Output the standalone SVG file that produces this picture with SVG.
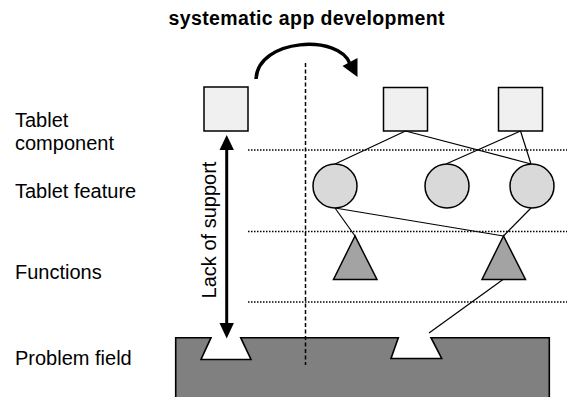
<svg xmlns="http://www.w3.org/2000/svg" width="567" height="397" viewBox="0 0 567 397">
<style>
.lbl{font-family:"Liberation Sans",Arial,sans-serif;font-size:20px;fill:#000}
.title{font-family:"Liberation Sans",Arial,sans-serif;font-size:19.5px;font-weight:bold;fill:#000}
.sq{fill:#f0f0f0;stroke:#000;stroke-width:1.5}
.ci{fill:#d9d9d9;stroke:#000;stroke-width:1.5}
.tri{fill:#a3a3a3;stroke:#000;stroke-width:1.5}
.dot{stroke:#000;stroke-width:1.3;stroke-dasharray:1.5 1.5;fill:none}
.con{stroke:#000;stroke-width:1.2;fill:none}
</style>
<rect width="567" height="397" fill="#fff"/>
<text class="title" x="306.5" y="25" text-anchor="middle" textLength="276" lengthAdjust="spacing">systematic app development</text>
<g id="labels">
<text class="lbl" x="15" y="127">Tablet</text>
<text class="lbl" x="15" y="150">component</text>
<text class="lbl" x="15" y="198">Tablet feature</text>
<text class="lbl" x="15" y="279">Functions</text>
<text class="lbl" x="15" y="365">Problem field</text>
</g>
<g id="guides">
<line class="dot" x1="248" y1="150" x2="567" y2="150"/>
<line class="dot" x1="248" y1="231.5" x2="567" y2="231.5"/>
<line class="dot" x1="248" y1="302" x2="567" y2="302"/>
</g>
<g id="problem-field">
<path d="M175.7,400 V337.7 H211 L201,359.5 H251 L240.7,337.7 H398.3 L391,358.5 H441.7 L431,337.7 H549.3 V400 Z" fill="#808080" stroke="#000" stroke-width="1.6"/>
</g>
<g id="component-old"><rect class="sq" x="204" y="87" width="44" height="44"/></g>
<g id="component-1"><rect class="sq" x="383.5" y="87.5" width="44" height="43.5"/></g>
<g id="component-2"><rect class="sq" x="498.5" y="87.5" width="44" height="43.5"/></g>
<g id="connectors">
<line class="con" x1="405.5" y1="131" x2="335" y2="164"/>
<line class="con" x1="405.5" y1="131" x2="531" y2="164"/>
<line class="con" x1="520.5" y1="131" x2="446" y2="164"/>
<line class="con" x1="520.5" y1="131" x2="531" y2="164"/>
<line class="con" x1="335" y1="208" x2="355" y2="236"/>
<line class="con" x1="335" y1="208" x2="503.5" y2="236"/>
<line class="con" x1="531" y1="208" x2="503.5" y2="236"/>
<line class="con" x1="503" y1="279.5" x2="429" y2="333"/>
</g>
<g id="feature-1"><circle class="ci" cx="335" cy="186" r="22"/></g>
<g id="feature-2"><circle class="ci" cx="447" cy="186" r="22"/></g>
<g id="feature-3"><circle class="ci" cx="532" cy="186" r="22"/></g>
<g id="function-1"><polygon class="tri" points="355,236 333.5,279.5 377,279.5"/></g>
<g id="function-2"><polygon class="tri" points="503.5,236 482,279.5 525.5,279.5"/></g>
<g id="divider"><line x1="305.5" y1="63" x2="305.5" y2="365" stroke="#000" stroke-width="1.5" stroke-dasharray="4 2.5"/></g>
<g id="dev-arrow">
<path d="M256,79 C258,38 340,34 350,64" fill="none" stroke="#000" stroke-width="3.5"/>
<polygon points="357.5,77 342.5,66 357.5,58" fill="#000"/>
</g>
<g id="lack-of-support">
<line x1="226.7" y1="146" x2="226.7" y2="326" stroke="#000" stroke-width="3"/>
<polygon points="226.7,135 219.5,150 233.9,150" fill="#000"/>
<polygon points="226.7,338.5 219.5,323 233.9,323" fill="#000"/>
<text class="lbl" transform="translate(216,230) rotate(-90)" text-anchor="middle">Lack of support</text>
</g>
</svg>
